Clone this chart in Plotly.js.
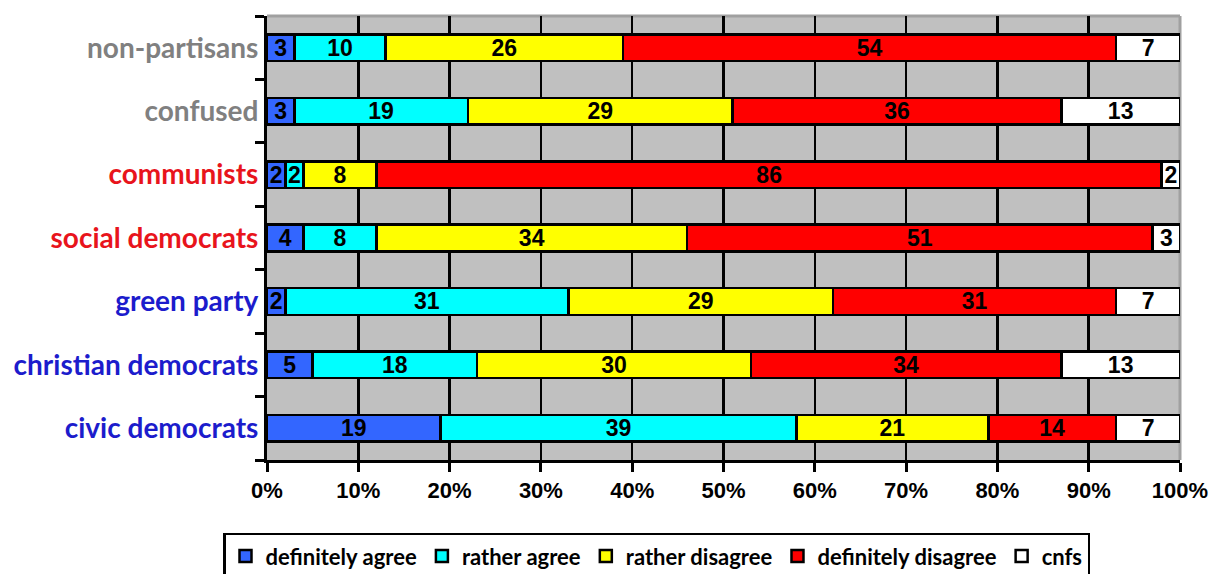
<!DOCTYPE html>
<html>
<head>
<meta charset="utf-8">
<script src="https://cdn.plot.ly/plotly-3.0.1.min.js"></script>
<style>html,body{margin:0;padding:0;background:#fff;}#chart{width:1218px;height:574px;}</style>
</head>
<body>
<div id="chart"></div>
<script>
// Categories, bottom to top
const categories = ['civic democrats', 'christian democrats', 'green party', 'social democrats', 'communists', 'confused', 'non-partisans'];
const labelColors = ['#1c1ccc', '#1c1ccc', '#1c1ccc', '#e8141c', '#e8141c', '#808080', '#808080'];

const seriesNames = ['definitely agree', 'rather agree', 'rather disagree', 'definitely disagree', 'cnfs'];
const seriesColors = ['#3366ff', '#00ffff', '#ffff00', '#ff0000', '#ffffff'];

const definitelyAgree    = [19, 5, 2, 4, 2, 3, 3];
const ratherAgree        = [39, 18, 31, 8, 2, 19, 10];
const ratherDisagree     = [21, 30, 29, 34, 8, 29, 26];
const definitelyDisagree = [14, 34, 31, 51, 86, 36, 54];
const cnfs               = [7, 13, 7, 3, 2, 13, 7];

const xTickVals = [0, 10, 20, 30, 40, 50, 60, 70, 80, 90, 100];

const allSeries = [definitelyAgree, ratherAgree, ratherDisagree, definitelyDisagree, cnfs];

const traces = allSeries.map((vals, i) => ({
  type: 'bar',
  orientation: 'h',
  name: '<b>' + seriesNames[i] + '</b>',
  y: categories,
  x: vals,
  text: vals.map(String),
  textposition: 'inside',
  insidetextanchor: 'middle',
  textangle: 0,
  constraintext: 'none',
  textfont: {family: 'Liberation Sans, Arial, sans-serif', size: 23, color: '#000', weight: 'bold'},
  marker: {color: seriesColors[i], line: {color: '#000', width: 2.5}},
  hoverinfo: 'skip'
}));

const layout = {
  width: 1218,
  height: 574,
  margin: {l: 267, r: 38, t: 16, b: 114, autoexpand: false},
  paper_bgcolor: '#ffffff',
  plot_bgcolor: '#c0c0c0',
  barmode: 'stack',
  bargap: 0.58,
  showlegend: true,
  uniformtext: {mode: 'show', minsize: 20},
  xaxis: {
    range: [0, 100],
    tickvals: xTickVals,
    ticktext: xTickVals.map(v => v + '%'),
    showgrid: true,
    gridcolor: '#000',
    gridwidth: 2.5,
    zeroline: false,
    showline: true,
    linecolor: '#000',
    linewidth: 3,
    ticks: 'outside',
    ticklen: 9,
    tickwidth: 3,
    tickcolor: '#000',
    tickfont: {family: 'Liberation Sans, Arial, sans-serif', size: 22, color: '#000', weight: 'bold'},
    automargin: false,
    fixedrange: true
  },
  yaxis: {
    type: 'category',
    categoryorder: 'array',
    categoryarray: categories,
    tickvals: categories,
    ticktext: categories.map((c, i) => '<b><span style="color:' + labelColors[i] + '">' + c + '</span></b>'),
    tickson: 'boundaries',
    ticks: 'outside',
    ticklen: 9,
    tickwidth: 3,
    tickcolor: '#000',
    showgrid: false,
    zeroline: false,
    showline: true,
    linecolor: '#000',
    linewidth: 3,
    tickfont: {family: 'Lato, sans-serif', size: 28, weight: 'bold'},
    automargin: false,
    fixedrange: true
  },
  legend: {
    orientation: 'h',
    xref: 'container',
    yref: 'container',
    x: 0.539,
    xanchor: 'center',
    y: 0.072,
    yanchor: 'top',
    bordercolor: '#000',
    borderwidth: 2.5,
    bgcolor: '#fff',
    font: {family: 'Lato, sans-serif', size: 22, color: '#000', weight: 'bold'},
    itemwidth: 30,
    traceorder: 'normal'
  },
  shapes: [
    {type: 'line', xref: 'paper', yref: 'paper', x0: 0, x1: 1, y0: 1, y1: 1, line: {color: '#a0a0a0', width: 3}, layer: 'between'},
    {type: 'line', xref: 'paper', yref: 'paper', x0: 1, x1: 1, y0: 0, y1: 1, line: {color: '#a0a0a0', width: 3}, layer: 'between'}
  ]
};

Plotly.newPlot('chart', traces, layout, {displayModeBar: false, staticPlot: true});
</script>
</body>
</html>
